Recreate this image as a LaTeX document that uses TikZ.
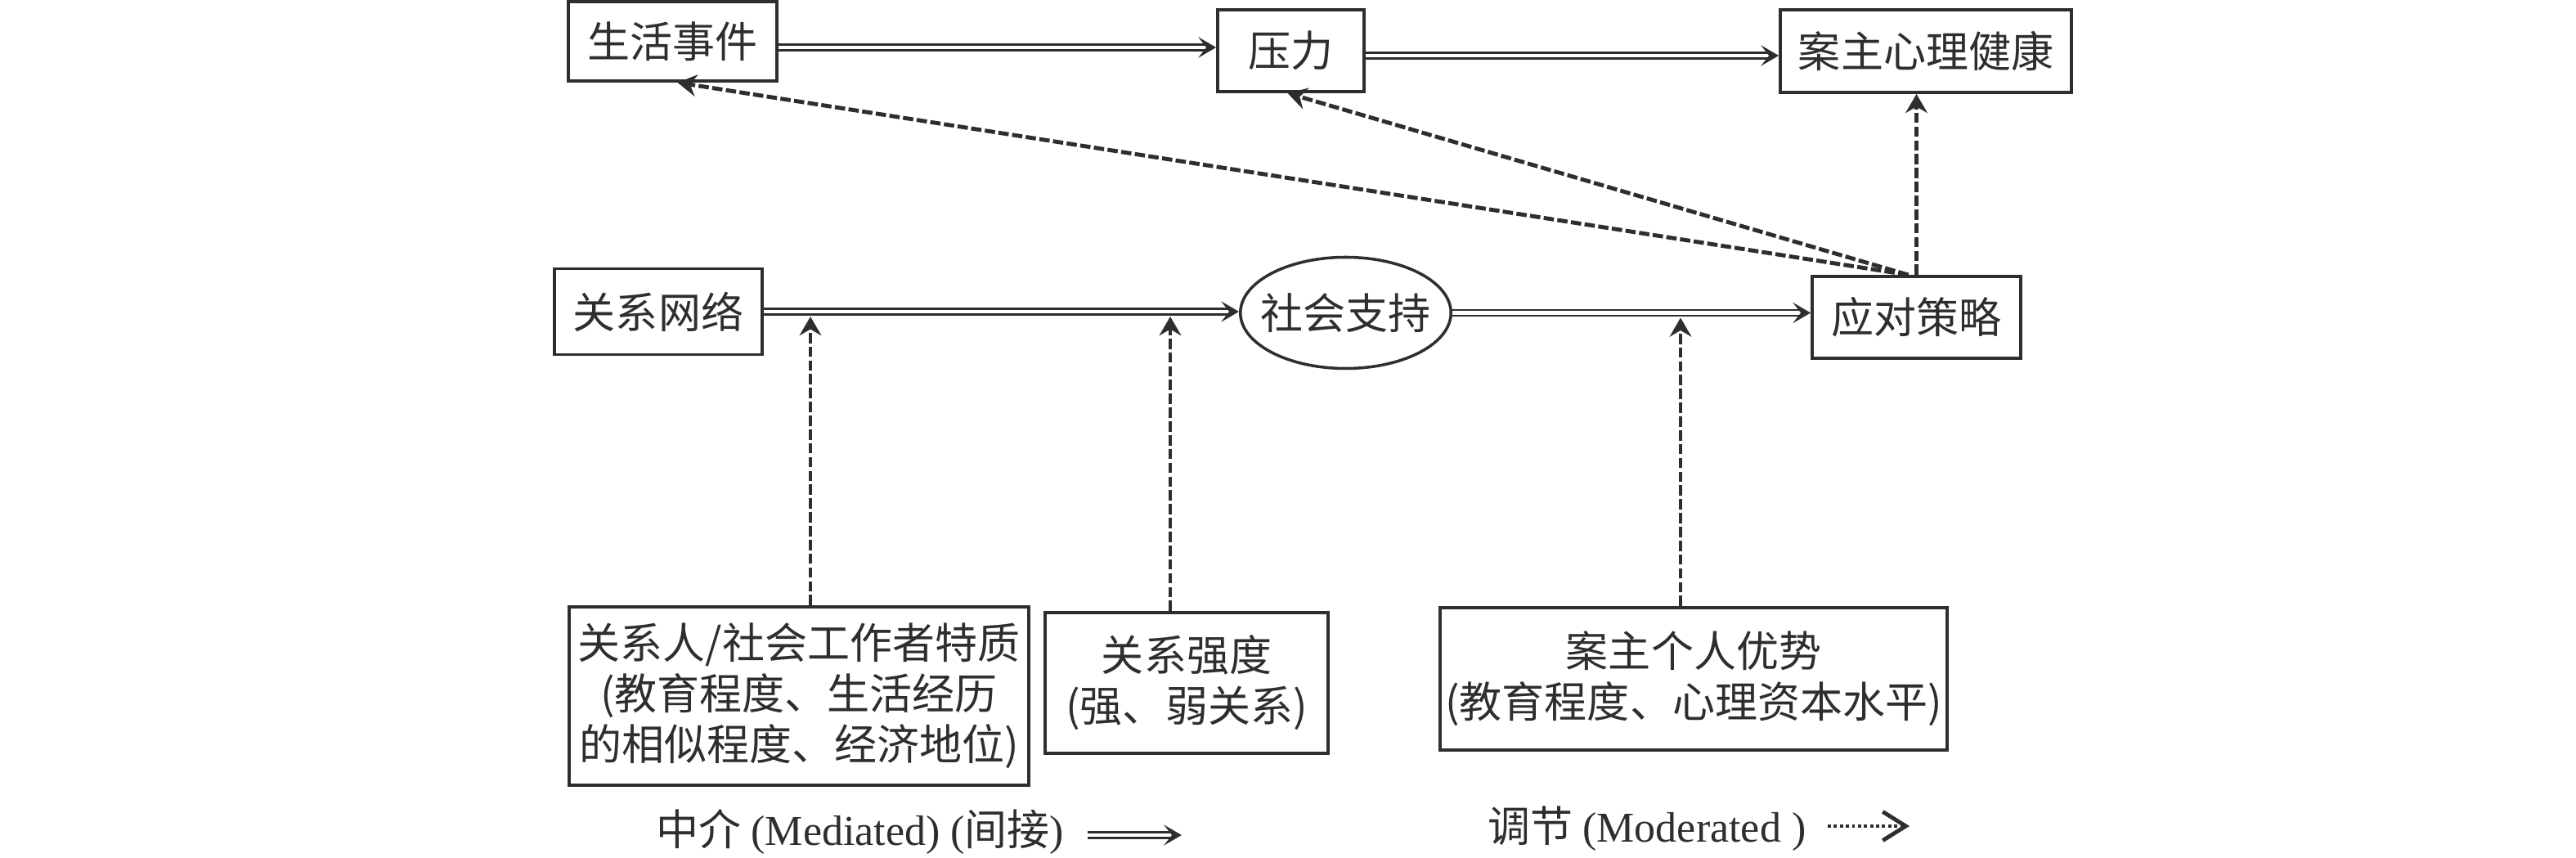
\documentclass[tikz,border=0pt]{standalone}
\usepackage{fontspec}
\setmainfont{Noto Sans CJK SC}
\newfontfamily\lat{Liberation Serif}
\usetikzlibrary{arrows.meta,shapes.geometric}
\definecolor{ink}{HTML}{2E2E2E}

\begin{document}
\begin{tikzpicture}[
  every node/.style = {font=\fontsize{14.8}{17.6}\selectfont, text=ink,
    inner sep=0pt, align=center},
  box/.style = {shape=rectangle, draw=ink, line width=1.1pt},
  dbl/.style = {draw=ink, double=white, double distance=1.2pt, line width=0.8pt,
    -{Stealth[length=6.2pt,width=7.2pt,inset=2.8pt]}},
  mod/.style = {draw=ink, line width=1.4pt, dash pattern=on 3.6pt off 1.2pt,
    -{Stealth[length=6.6pt,width=7.6pt,inset=2.2pt]}},
  key/.style = {draw=ink, line width=1.2pt, dash pattern=on 1.1pt off 1pt,
    -{Straight Barb[length=8pt,width=10pt,line width=1.4pt]}}]
  \useasboundingbox (0,0) rectangle (31.5,-10.49);
  \node[box, minimum width=2.55cm, minimum height=0.97cm] (life) at (8.225,-0.505) {生活事件};
  \node[box, minimum width=1.79cm, minimum height=1.0cm] (stress) at (15.785,-0.62) {压力};
  \node[box, minimum width=3.56cm, minimum height=1.01cm] (health) at (23.55,-0.625) {案主心理健康};
  \node[box, minimum width=2.54cm, minimum height=1.05cm] (network) at (8.05,-3.81) {关系网络};
  \node[ellipse, draw=ink, line width=1pt, inner xsep=-0.13cm, minimum width=2.57cm,
    minimum height=1.36cm] (support) at (16.455,-3.825) {社会支持};
  \node[box, minimum width=2.55cm, minimum height=1.0cm] (coping) at (23.435,-3.88) {应对策略};
  \node[box, minimum width=5.62cm, minimum height=2.18cm] (traits) at (9.77,-8.51)
    {关系人/社会工作者特质\\(教育程度、生活经历\\的相似程度、经济地位)};
  \node[box, minimum width=3.46cm, minimum height=1.72cm] (strength) at (14.51,-8.35)
    {关系强度\\(强、弱关系)};
  \node[box, minimum width=6.2cm, minimum height=1.74cm] (advantage) at (20.71,-8.30)
    {案主个人优势\\(教育程度、心理资本水平)};
  \node (medlabel) at (10.52,-10.17) {中介 {\lat (Mediated) (}间接{\lat )}};
  \node (modlabel) at (20.14,-10.13) {调节 {\lat (Moderated )}};

  \draw[dbl] ([yshift=-0.75mm]life.east) -- ([yshift=-0.75mm]life.east -| stress.west);
  \draw[dbl] ([yshift=-0.6mm]stress.east) -- ([yshift=-0.6mm]stress.east -| health.west);
  \draw[dbl] (network.east) -- (network.east -| support.west);
  \draw[dbl] (support.east) -- (support.east -| coping.west);
  \draw[mod] (coping.north) -- (coping.north |- health.south);
  \draw[mod] ([xshift=-1mm]coping.north) -- ([xshift=-0.4mm]stress.south);
  \draw[mod] ([xshift=-1mm]coping.north) -- ([xshift=0.6mm]life.south);
  \draw[mod] ([xshift=1.4mm]traits.north) -- ([xshift=1.4mm,yshift=-0.6mm]traits.north |- network.east);
  \draw[mod] ([xshift=-2mm]strength.north) -- ([xshift=-2mm,yshift=-0.6mm]strength.north |- network.east);
  \draw[mod] ([xshift=-1.6mm]advantage.north) -- ([xshift=-1.6mm,yshift=-0.6mm]advantage.north |- support.east);
  \draw[dbl] ([xshift=2.8mm,yshift=-0.4mm]medlabel.east) -- ++(1.15,0);
  \draw[key] ([xshift=2.6mm,yshift=0.3mm]modlabel.east) -- ++(1.0,0);
\end{tikzpicture}
\end{document}
